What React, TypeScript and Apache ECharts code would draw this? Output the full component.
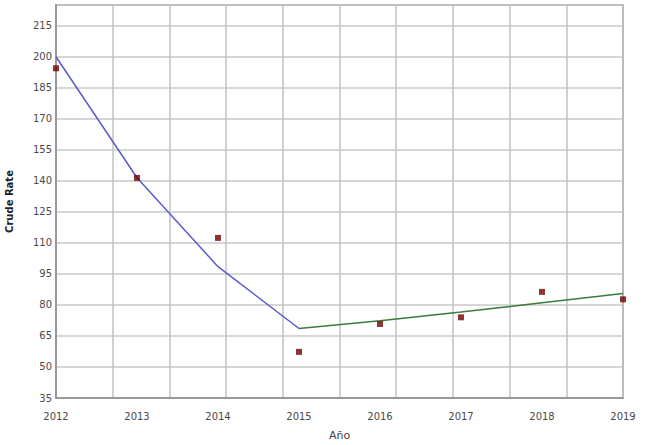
import React, { useEffect, useRef } from "react";
import * as echarts from "echarts";

const years = [2012, 2013, 2014, 2015, 2016, 2017, 2018, 2019];
const observed = [194.4, 141.4, 112.4, 57.3, 70.8, 74.0, 86.3, 82.7];
const fitYears1 = [2012, 2013, 2014, 2015];
const fitValues1 = [200, 141.5, 98.5, 68.6];
const fitYears2 = [2015, 2016, 2017, 2018, 2019];
const fitValues2 = [68.6, 72.3, 76.6, 81.0, 85.5];
const yLabelMax = 225;

export default function App() {
  const ref = useRef<HTMLDivElement>(null);
  useEffect(() => {
    if (!ref.current) return;
    const chart = echarts.init(ref.current, undefined, { renderer: "svg" });
    const font = "DejaVu Sans";
    chart.setOption({
      animation: false,
      backgroundColor: "#ffffff",
      grid: {
        left: 56,
        top: 5,
        right: 27,
        bottom: 47,
        show: true,
        borderColor: "#8c8c8c",
        borderWidth: 1.5,
        outerBoundsMode: "none",
        containLabel: false,
      },
      xAxis: [
        {
          type: "value",
          min: 2012,
          max: 2019,
          interval: 1,
          name: "Año",
          nameLocation: "middle",
          nameGap: 32,
          nameTextStyle: { fontFamily: font, fontSize: 11, color: "#444" },
          axisLine: { show: true, lineStyle: { color: "#8c8c8c", width: 1.5 } },
          axisTick: { show: false },
          splitLine: { show: false },
          axisLabel: {
            fontFamily: font,
            fontSize: 10,
            color: "#4a4a4a",
            margin: 13,
            formatter: (v: number) => String(v),
          },
        },
        {
          type: "value",
          min: 0,
          max: 10,
          interval: 1,
          position: "top",
          axisLine: { show: false },
          axisTick: { show: false },
          axisLabel: { show: false },
          splitLine: { show: true, lineStyle: { color: "#c2c2c2", width: 1.5 } },
        },
      ],
      yAxis: {
        type: "value",
        min: 35,
        max: yLabelMax,
        interval: 15,
        name: "Crude Rate",
        nameLocation: "middle",
        nameGap: 42,
        nameTextStyle: { fontFamily: font, fontSize: 10, fontWeight: "bold", color: "#222" },
        axisLine: { show: true, lineStyle: { color: "#8c8c8c", width: 1.5 } },
        axisTick: { show: false },
        splitLine: { show: true, lineStyle: { color: "#c8c8c8", width: 1.5 } },
        axisLabel: {
          fontFamily: font,
          fontSize: 10,
          color: "#4a4a4a",
          margin: 4,
          formatter: (v: number) => (v >= yLabelMax ? "" : String(v)),
        },
      },
      series: [
        {
          type: "line",
          xAxisIndex: 0,
          data: fitYears1.map((y, i) => [y, fitValues1[i]]),
          symbol: "none",
          lineStyle: { color: "#5a5acd", width: 1.5 },
          z: 3,
        },
        {
          type: "line",
          xAxisIndex: 0,
          data: fitYears2.map((y, i) => [y, fitValues2[i]]),
          symbol: "none",
          lineStyle: { color: "#3a7a3a", width: 1.5 },
          z: 3,
        },
        {
          type: "scatter",
          xAxisIndex: 0,
          data: years.map((y, i) => [y, observed[i]]),
          symbol: "rect",
          symbolSize: 6,
          itemStyle: { color: "#730000" },
          z: 4,
        },
      ],
    });
    return () => chart.dispose();
  }, []);
  return <div ref={ref} style={{ width: 650, height: 445, position: "absolute", left: 0, top: 0 }} />;
}
